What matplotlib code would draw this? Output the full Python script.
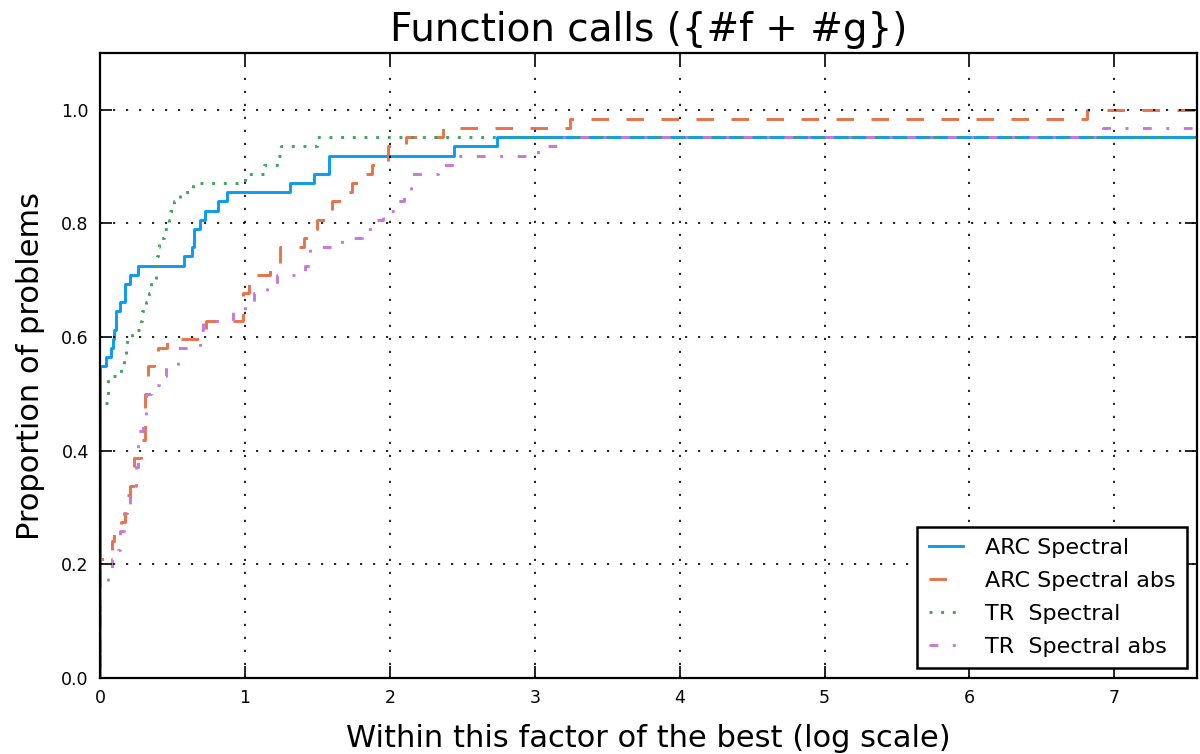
import matplotlib
matplotlib.use("Agg")
import matplotlib.pyplot as plt
import numpy as np

N_PROBLEMS = 62

# step positions (log-scale factor) and number of problems solved after each step
arc_x = [0, 0, 0.041, 0.074, 0.09, 0.10, 0.11, 0.138, 0.17, 0.21, 0.26, 0.58, 0.635,
         0.648, 0.69, 0.725, 0.816, 0.879, 1.308, 1.48, 1.578, 2.443, 2.741]
arc_n = [0, 34, 35, 36, 37, 38, 40, 41, 43, 44, 45, 46, 47,
         49, 50, 51, 52, 53, 54, 55, 57, 58, 59]

arcabs_x = [0, 0, 0.08, 0.096, 0.145, 0.17, 0.19, 0.21, 0.235, 0.28, 0.31, 0.33, 0.37,
            0.40, 0.46, 0.68, 0.73, 0.987, 1.03, 1.083, 1.175, 1.24, 1.41, 1.452, 1.50,
            1.55, 1.60, 1.70, 1.74, 1.81, 1.88, 1.985, 2.11, 2.37, 3.246, 6.81]
arcabs_n = [0, 13, 15, 16, 17, 18, 20, 21, 24, 26, 31, 34, 35,
            36, 37, 38, 39, 42, 43, 44, 45, 47, 48, 49, 50,
            51, 52, 53, 54, 55, 56, 58, 59, 60, 61, 62]

tr_x = [0, 0, 0.055, 0.145, 0.165, 0.18, 0.19, 0.22, 0.283, 0.287, 0.32, 0.34, 0.35,
        0.385, 0.39, 0.395, 0.40, 0.41, 0.44, 0.475, 0.48, 0.51, 0.55, 0.64, 1.0,
        1.13, 1.22, 1.25, 1.5]
tr_n = [0, 30, 33, 34, 35, 36, 37, 38, 39, 40, 41, 42, 43,
        44, 45, 46, 47, 48, 49, 50, 51, 52, 53, 54, 55,
        56, 57, 58, 59]

trabs_x = [0, 0, 0.057, 0.083, 0.126, 0.138, 0.166, 0.207, 0.237, 0.25, 0.26, 0.265,
           0.30, 0.32, 0.35, 0.41, 0.455, 0.536, 0.69, 0.71, 0.92, 1.0, 1.065, 1.15,
           1.22, 1.414, 1.448, 1.67, 1.81, 1.908, 1.95, 2.046, 2.10, 2.145, 2.33,
           2.455, 3.02, 3.2, 6.92]
trabs_n = [0, 10, 11, 13, 14, 16, 18, 20, 21, 23, 25, 27,
           28, 31, 32, 33, 34, 36, 38, 39, 40, 41, 42, 43,
           44, 45, 47, 48, 49, 50, 51, 52, 53, 55, 56,
           57, 58, 59, 60]

labels = ["ARC Spectral", "ARC Spectral abs", "TR  Spectral", "TR  Spectral abs"]
colors = ["#0a9cf0", "#e8724a", "#3ca65a", "#c878d8"]
dashes = [None, (6, 6), (1, 3), (3, 5, 1, 5)]

X_MAX = 7.57

fig = plt.figure(figsize=(12, 7.54), dpi=100)
fig.patch.set_facecolor("white")
ax = fig.add_axes([0.0833, 0.1008, 0.9142, 0.8289])

series = [(arc_x, arc_n), (arcabs_x, arcabs_n), (tr_x, tr_n), (trabs_x, trabs_n)]
for (xs, ns), lab, col, ds in zip(series, labels, colors, dashes):
    xx = np.array(list(xs) + [X_MAX])
    yy = np.array(list(ns) + [ns[-1]]) / N_PROBLEMS
    line, = ax.step(xx, yy, where="post", color=col, lw=2.1, label=lab)
    if ds is not None:
        line.set_dashes(ds)

ax.set_xlim(0, X_MAX)
ax.set_ylim(0, 1.1)
ax.set_xticks(range(0, 8))
ax.set_yticks([0.0, 0.2, 0.4, 0.6, 0.8, 1.0])
ax.set_yticklabels(["0.0", "0.2", "0.4", "0.6", "0.8", "1.0"])
ax.tick_params(direction="in", length=8.5, width=1.2, top=True, right=True,
               labelsize=12.5, pad=8)
for sp in ax.spines.values():
    sp.set_linewidth(1.6)
ax.grid(True, color="black", lw=1.2, dashes=(1.3, 6.5))
ax.set_axisbelow(False)

ax.set_title("Function calls ({#f + #g})", fontsize=28, pad=9)
ax.set_xlabel("Within this factor of the best (log scale)", fontsize=22, labelpad=12)
ax.set_ylabel("Proportion of problems", fontsize=22, labelpad=12)

leg = ax.legend(loc="lower right", fontsize=16, fancybox=False, framealpha=1,
                edgecolor="black", handlelength=1.55, handletextpad=1.0,
                borderpad=0.5, labelspacing=0.58, borderaxespad=0.45)
leg.get_frame().set_linewidth(1.8)

fig.savefig("out.png", dpi=100, facecolor="white")
